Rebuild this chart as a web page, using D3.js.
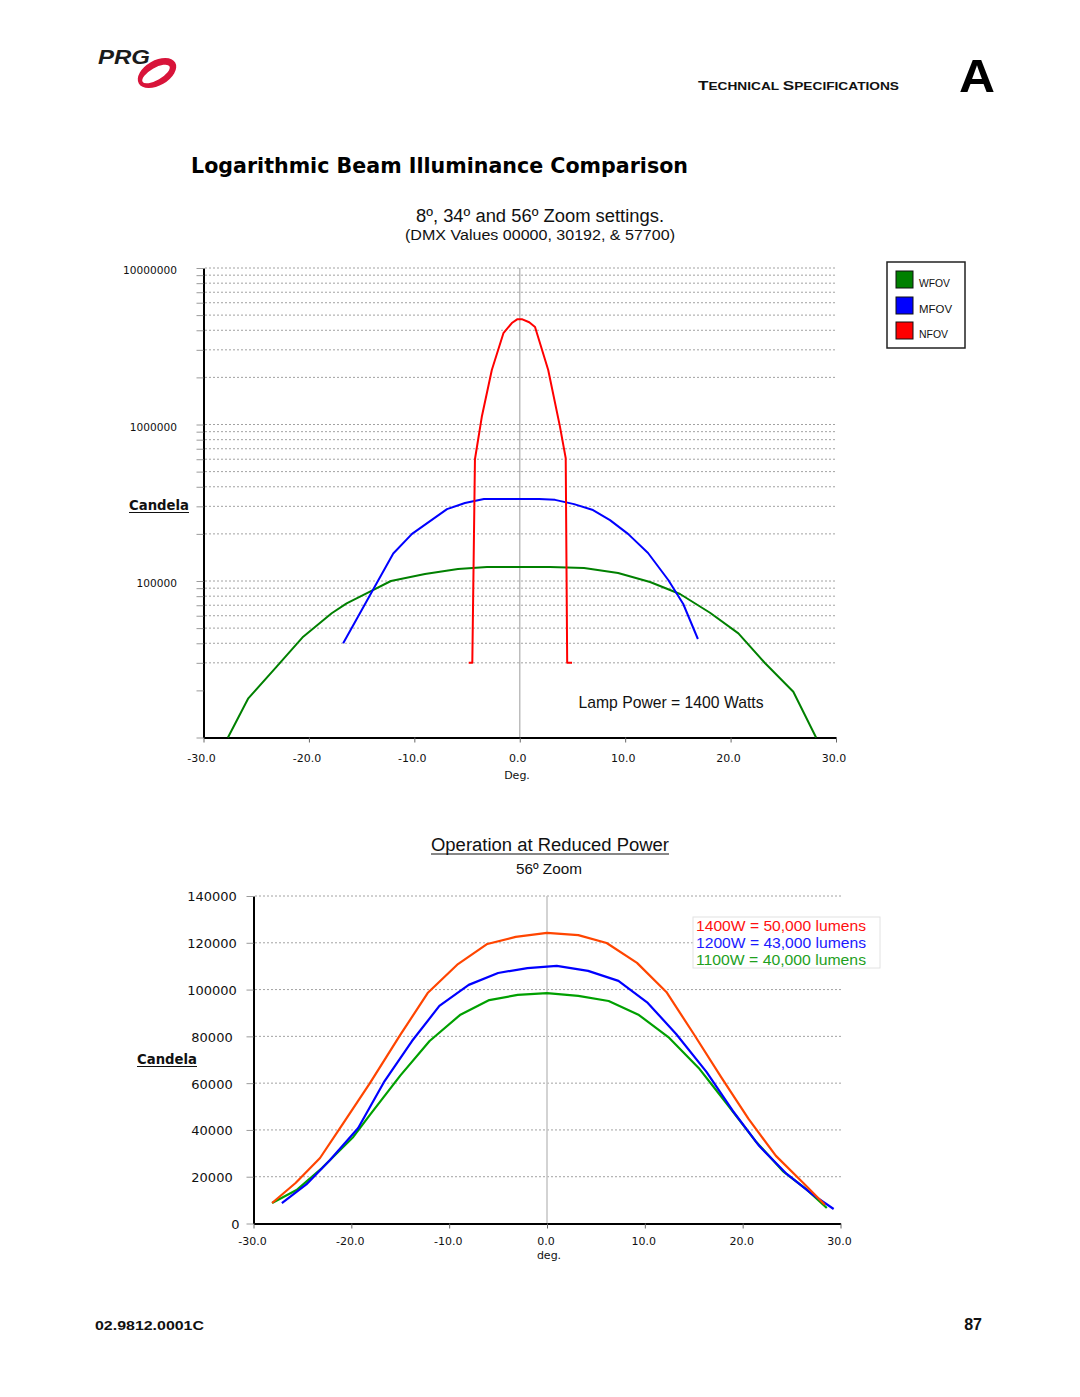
<!DOCTYPE html>
<html><head><meta charset="utf-8">
<script src="https://cdn.jsdelivr.net/npm/d3@7"></script>
<style>body{margin:0;background:#fff}</style>
</head><body>
<svg id="page" width="1080" height="1397" xmlns="http://www.w3.org/2000/svg"></svg>
<script>
// ---------- DATA ----------
// Top chart (log scale): candela vs degrees
const topSeriesNames = ["WFOV", "MFOV", "NFOV"];
const wfovDeg = [-27.68,-25.75,-23.06,-20.54,-17.84,-16.42,-14.21,-12.22,-8.99,-5.86,-3.11,2.87,6.1,9.33,12.36,15.2,18.05,20.74,23.28,25.95,28.11];
const wfovCd  = [10000,17800,28350,44060,62200,72000,85450,100000,110800,119300,122900,122900,121000,112500,98500,82600,62700,46300,29800,19620,10000];
const mfovDeg = [-16.75,-12.0,-10.22,-6.9,-5.2,-3.4,1.83,3.35,5.15,6.95,8.56,10.27,12.17,14.09,15.51,16.9];
const mfovCd  = [40000,150000,200000,288000,315000,334000,334000,330000,310000,284000,245000,200000,151000,101500,71300,42600];
const nfovDeg = [-4.84,-4.5,-4.25,-3.6,-2.65,-1.55,-0.75,-0.25,0.25,0.9,1.45,2.7,3.8,4.36,4.5,4.96];
const nfovCd  = [30000,30000,600000,1120000,2230000,3830000,4450000,4700000,4700000,4500000,4200000,2230000,980000,610000,30000,30000];
const topXTicks = [-30,-20,-10,0,10,20,30];
const topYLabelValues = [10000000,1000000,100000];
const topYLabels = ["10000000","1000000","100000"];

// Bottom chart (linear): reduced power, 56º zoom
const botSeriesNames = ["1400W = 50,000 lumens","1200W = 43,000 lumens","1100W = 40,000 lumens"];
const w1400Deg = [-28.1,-25.7,-23.2,-20.8,-18.1,-15.0,-12.2,-9.1,-6.1,-3.2,0,3.2,6.1,9.2,12.2,15.0,17.8,20.6,23.4,26.2,28.4];
const w1400Cd  = [8760,17300,28000,43000,60000,80600,98500,110900,119500,122500,124200,123300,119900,111400,99000,81000,62600,44700,28900,17300,8000];
const w1200Deg = [-27.1,-24.6,-22.2,-19.3,-16.6,-13.8,-11.0,-8.0,-5.0,-2.0,1.0,4.2,7.3,10.3,13.2,16.3,19.0,21.7,24.5,27.2,29.3];
const w1200Cd  = [8760,16700,27000,40800,60900,78000,93000,102000,107100,109200,110100,108000,103700,94300,81000,64800,48100,33100,21200,12200,6200];
const w1100Deg = [-28.1,-25.6,-23.0,-19.8,-18.1,-15.0,-12.0,-8.9,-5.9,-3.0,0,3.2,6.3,9.4,12.4,15.5,18.4,21.3,24.1,26.5,28.6];
const w1100Cd  = [8760,14300,23700,37000,46400,63200,78000,89100,95500,97700,98500,97300,95100,89100,79700,66500,51100,35300,22400,14700,6600];
const botXTicks = [-30,-20,-10,0,10,20,30];
const botYTicks = [0,20000,40000,60000,80000,100000,120000,140000];

// ---------- DRAW ----------
const svg = d3.select("#page");
const SANS = "'Liberation Sans', Arial, sans-serif";
const VERA = "'DejaVu Sans', Verdana, sans-serif";

function txt(x, y, s, o = {}) {
  const t = svg.append("text").attr("x", x).attr("y", y).text(s)
    .attr("font-family", o.family || SANS)
    .attr("font-size", o.size || 14)
    .attr("fill", o.fill || "#111")
    .attr("text-anchor", o.anchor || "start");
  if (o.weight) t.attr("font-weight", o.weight);
  if (o.style) t.attr("font-style", o.style);
  if (o.len) t.attr("textLength", o.len).attr("lengthAdjust", "spacingAndGlyphs");
  return t;
}

// Header: logo
const logo = svg.append("g");
logo.append("ellipse").attr("cx", 157).attr("cy", 73).attr("rx", 21).attr("ry", 12.5)
  .attr("transform", "rotate(-30 157 73)").attr("fill", "#d8143a");
logo.append("ellipse").attr("cx", 156).attr("cy", 74).attr("rx", 15.5).attr("ry", 6)
  .attr("transform", "rotate(-30 156 74)").attr("fill", "#fff");
txt(98, 64, "PRG", {size: 20, weight: 900, style: "italic", fill: "#1b1b1b", len: 52});

// Header right
const hdr = svg.append("text").attr("x", 698).attr("y", 90).attr("font-family", SANS)
  .attr("font-weight", "bold").attr("fill", "#111")
  .attr("textLength", 201).attr("lengthAdjust", "spacingAndGlyphs");
hdr.append("tspan").attr("font-size", 12.5).text("T");
hdr.append("tspan").attr("font-size", 10).text("ECHNICAL ");
hdr.append("tspan").attr("font-size", 12.5).text("S");
hdr.append("tspan").attr("font-size", 10).text("PECIFICATIONS");
txt(959, 92, "A", {size: 47, weight: "bold", fill: "#000", len: 36});

// Titles
txt(191, 173, "Logarithmic Beam Illuminance Comparison", {family: VERA, size: 21, weight: "bold", fill: "#000", len: 497});
txt(540, 222, "8º, 34º and 56º Zoom settings.", {size: 18, anchor: "middle", len: 248});
txt(540, 240, "(DMX Values 00000, 30192, & 57700)", {size: 15.5, anchor: "middle", len: 270});

// ---------- Top chart ----------
const xTop = d3.scaleLinear().domain([-30, 30]).range([203.5, 836]);
const yTop = d3.scaleLog().domain([1e4, 1e7]).range([737.5, 268]);
const topTicks = yTop.ticks();

// gridlines
svg.append("g").selectAll("line").data(topTicks.filter(v => v > 20000)).join("line")
  .attr("x1", 205).attr("x2", 836)
  .attr("y1", d => yTop(d)).attr("y2", d => yTop(d))
  .attr("stroke", "#8a8a8a").attr("stroke-width", 0.8).attr("stroke-dasharray", "2,2");
// zero line
svg.append("line").attr("x1", xTop(0)).attr("x2", xTop(0)).attr("y1", yTop(1e7)).attr("y2", yTop(1e4))
  .attr("stroke", "#bdbdbd").attr("stroke-width", 1.5);

// y axis
const labelMap = new Map(topYLabelValues.map((v, i) => [v, topYLabels[i]]));
const yAxTop = svg.append("g").attr("transform", `translate(${xTop(-30)},0)`)
  .call(d3.axisLeft(yTop).tickValues(topTicks).tickSize(7).tickSizeOuter(0).tickPadding(19.5)
    .tickFormat(d => labelMap.get(d) || ""));
yAxTop.select(".domain").attr("stroke", "#000").attr("stroke-width", 2);
yAxTop.selectAll(".tick line").attr("stroke", "#9a9a9a");
yAxTop.selectAll(".tick text").attr("font-family", VERA).attr("font-size", 10.6).attr("fill", "#111").attr("dy", "0.52em");

// x axis
const xAxTop = svg.append("g").attr("transform", `translate(0,${yTop(1e4)})`)
  .call(d3.axisBottom(xTop).tickValues(topXTicks).tickSize(5).tickSizeOuter(0).tickPadding(11.7)
    .tickFormat(d => d.toFixed(1)));
xAxTop.select(".domain").attr("stroke", "#000").attr("stroke-width", 2);
xAxTop.selectAll(".tick line").attr("stroke", "#666");
xAxTop.selectAll(".tick text").attr("font-family", VERA).attr("font-size", 11).attr("fill", "#111").attr("dx", -2.5);
txt(517, 779, "Deg.", {family: VERA, size: 11, anchor: "middle"});

// Candela label (top)
txt(129, 510, "Candela", {family: VERA, size: 13.3, weight: "bold", len: 60});
svg.append("line").attr("x1", 129).attr("x2", 189).attr("y1", 512.5).attr("y2", 512.5).attr("stroke", "#111").attr("stroke-width", 1.2);

// series
const topColors = ["#008000", "#0000ff", "#ff0000"];
const topSeries = [
  wfovDeg.map((d, i) => [d, wfovCd[i]]),
  mfovDeg.map((d, i) => [d, mfovCd[i]]),
  nfovDeg.map((d, i) => [d, nfovCd[i]])
];
const lineTop = d3.line().x(d => xTop(d[0])).y(d => yTop(Math.max(d[1], 1e4)));
svg.append("g").selectAll("path").data(topSeries).join("path")
  .attr("d", lineTop).attr("fill", "none")
  .attr("stroke", (d, i) => topColors[i]).attr("stroke-width", 2).attr("stroke-linejoin", "round");

txt(671, 708, "Lamp Power = 1400 Watts", {size: 15.7, anchor: "middle", len: 185});

// legend top
svg.append("rect").attr("x", 887).attr("y", 262).attr("width", 78).attr("height", 86)
  .attr("fill", "#fff").attr("stroke", "#222").attr("stroke-width", 1.5);
const legY = [271, 297, 322];
const legG = svg.append("g").selectAll("g").data(topSeriesNames).join("g");
legG.append("rect").attr("x", 896).attr("y", (d, i) => legY[i]).attr("width", 17).attr("height", 17)
  .attr("fill", (d, i) => topColors[i]).attr("stroke", "#111").attr("stroke-width", 1);
legG.append("text").attr("x", 919).attr("y", (d, i) => legY[i] + 15.5).text(d => d)
  .attr("font-family", SANS).attr("font-size", 11).attr("fill", "#111")
  .attr("textLength", (d, i) => [31, 33, 29][i]).attr("lengthAdjust", "spacingAndGlyphs");

// ---------- Bottom chart ----------
txt(550, 851, "Operation at Reduced Power", {size: 18, anchor: "middle", len: 238});
svg.append("line").attr("x1", 431).attr("x2", 669).attr("y1", 854).attr("y2", 854).attr("stroke", "#111").attr("stroke-width", 1.1);
txt(549, 874, "56º Zoom", {size: 15.3, anchor: "middle", len: 66});

const xBot = d3.scaleLinear().domain([-30, 30]).range([253.5, 840.5]);
const yBot = d3.scaleLinear().domain([0, 140000]).range([1223.5, 896]);

svg.append("g").selectAll("line").data(botYTicks.filter(v => v > 0)).join("line")
  .attr("x1", 255).attr("x2", 842)
  .attr("y1", d => yBot(d)).attr("y2", d => yBot(d))
  .attr("stroke", "#8a8a8a").attr("stroke-width", 0.8).attr("stroke-dasharray", "2,2");
svg.append("line").attr("x1", xBot(0)).attr("x2", xBot(0)).attr("y1", yBot(140000)).attr("y2", yBot(0))
  .attr("stroke", "#c4c4c4").attr("stroke-width", 1.5);

const yAxBot = svg.append("g").attr("transform", `translate(${xBot(-30)},0)`)
  .call(d3.axisLeft(yBot).tickValues(botYTicks).tickSize(7).tickSizeOuter(0).tickFormat(d => String(d)));
yAxBot.select(".domain").attr("stroke", "#000").attr("stroke-width", 2);
yAxBot.selectAll(".tick line").attr("stroke", "#9a9a9a");
yAxBot.selectAll(".tick text").attr("font-family", VERA).attr("font-size", 13).attr("fill", "#111")
  .attr("text-anchor", "middle").attr("x", d => d === 0 ? -18 : -41.5).attr("dy", "0.38em");

const xAxBot = svg.append("g").attr("transform", `translate(0,${yBot(0)})`)
  .call(d3.axisBottom(xBot).tickValues(botXTicks).tickSize(5).tickSizeOuter(0).tickPadding(8.7)
    .tickFormat(d => d.toFixed(1)));
xAxBot.select(".domain").attr("stroke", "#000").attr("stroke-width", 2);
xAxBot.selectAll(".tick line").attr("stroke", "#666");
xAxBot.selectAll(".tick text").attr("font-family", VERA).attr("font-size", 11).attr("fill", "#111").attr("dx", -1.5);
txt(549, 1259, "deg.", {family: VERA, size: 11, anchor: "middle"});

txt(137, 1064, "Candela", {family: VERA, size: 13.3, weight: "bold", len: 60});
svg.append("line").attr("x1", 137).attr("x2", 197).attr("y1", 1066.5).attr("y2", 1066.5).attr("stroke", "#111").attr("stroke-width", 1.2);

const botColors = ["#ff4500", "#0000ff", "#00a000"];
const botSeries = [
  w1400Deg.map((d, i) => [d, w1400Cd[i]]),
  w1200Deg.map((d, i) => [d, w1200Cd[i]]),
  w1100Deg.map((d, i) => [d, w1100Cd[i]])
];
const lineBot = d3.line().x(d => xBot(d[0])).y(d => yBot(d[1]));
svg.append("g").selectAll("path").data(botSeries.slice().reverse()).join("path")
  .attr("d", lineBot).attr("fill", "none")
  .attr("stroke", (d, i) => botColors[2 - i]).attr("stroke-width", 2.2).attr("stroke-linejoin", "round");

// legend bottom
svg.append("rect").attr("x", 693).attr("y", 917).attr("width", 187).attr("height", 51)
  .attr("fill", "#fff").attr("stroke", "#e2e2e2").attr("stroke-width", 1);
const legTextColors = ["#ff1010", "#1a1aff", "#1ea01e"];
svg.append("g").selectAll("text").data(botSeriesNames).join("text")
  .attr("x", 696).attr("y", (d, i) => [930.5, 947.5, 964.5][i]).text(d => d)
  .attr("font-family", SANS).attr("font-size", 15.4).attr("fill", (d, i) => legTextColors[i])
  .attr("textLength", 170).attr("lengthAdjust", "spacingAndGlyphs");

// Footer
txt(95, 1330, "02.9812.0001C", {size: 12, weight: "bold", fill: "#111", len: 109});
txt(982, 1330, "87", {size: 16, weight: "bold", fill: "#111", anchor: "end"});
</script>
</body></html>
